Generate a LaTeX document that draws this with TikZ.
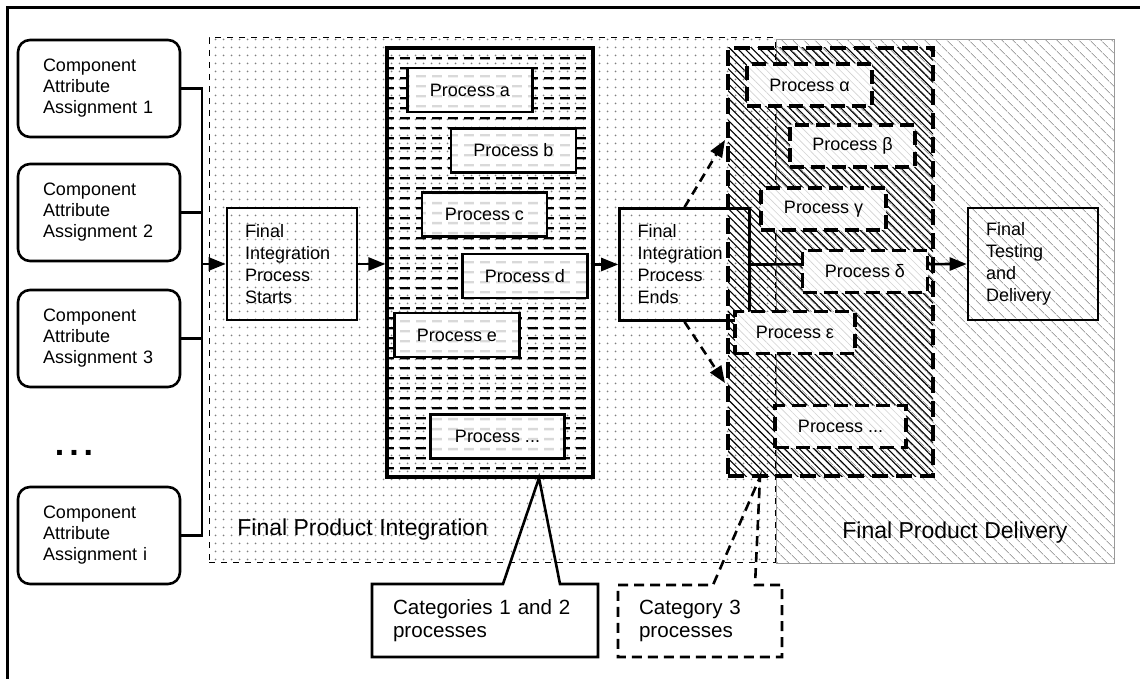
\documentclass[tikz,border=0pt]{standalone}
\usepackage{fontspec}
\setmainfont{Liberation Sans}
\usetikzlibrary{arrows.meta,patterns,patterns.meta}

\tikzdeclarepattern{name=sparsedots,type=uncolored,
  bottom left={(-2pt,-2pt)},top right={(2pt,2pt)},tile size={(4pt,4pt)},
  code={\fill (0pt,0pt) circle (0.55pt);}}
\tikzdeclarepattern{name=hdashes,type=uncolored,
  bottom left={(0pt,0pt)},top right={(8pt,4.9pt)},tile size={(8pt,4.9pt)},
  code={\fill (0pt,1.85pt) rectangle (5.2pt,3pt);}}

\begin{document}
\begin{tikzpicture}[x=0.5pt,y=-0.5pt,
  compbox/.style={draw,line width=1.3pt,rounded corners=6pt,minimum width=81pt,minimum height=48.5pt,
    text width=56pt,inner xsep=12.5pt,align=left,font=\fontsize{9}{10.5}\selectfont},
  stagebox/.style={draw,line width=1.3pt,minimum width=65pt,minimum height=56pt,
    text width=47pt,inner xsep=9pt,align=left,font=\fontsize{9}{11}\selectfont},
  procbox/.style={draw,line width=1.3pt,minimum width=62.5pt,minimum height=22pt,inner sep=0pt,
    preaction={fill=white},pattern=hdashes,pattern color=gray!30,font=\fontsize{9}{11}\selectfont},
  greekbox/.style={draw,line width=1.6pt,dash pattern=on 7pt off 3.5pt,minimum width=62.5pt,minimum height=21pt,inner sep=0pt,
    preaction={fill=white},pattern={Lines[angle=-45,distance=2.6pt,line width=0.3pt]},pattern color=gray!35,
    font=\fontsize{9}{11}\selectfont},
  regionlabel/.style={anchor=base west,inner sep=0pt,font=\fontsize{11.5}{13}\selectfont},
  notetext/.style={inner sep=0pt,align=left,font=\fontsize{10.3}{11.5}\selectfont},
  flow/.style={line width=1.3pt,-{Triangle[length=8.5pt,width=6.5pt]}},
  maybe/.style={flow,dash pattern=on 4.5pt off 3pt},
  bus/.style={line width=1.4pt}]
\useasboundingbox (0,0) rectangle (1140,679);
\draw[line width=1.5pt] (7,679)--(7,8)--(1140,8);

% the two stages
\node[draw=gray!80,line width=0.5pt,pattern={Lines[angle=-45,distance=4pt,line width=0.45pt]},pattern color=gray!70,
  minimum width=169pt,minimum height=261.5pt,inner sep=0pt] (fpd) at (945,301.5) {};
\node[draw,dashed,line width=0.5pt,pattern=sparsedots,pattern color=gray,
  minimum width=283pt,minimum height=262pt,inner sep=0pt] (fpi) at (492,300) {};
\node[regionlabel] (fpilabel) at (237,535) {Final Product Integration};
\node[regionlabel] (fpdlabel) at (842,538) {Final Product Delivery};

% process categories
\node[draw,line width=1.6pt,dash pattern=on 8pt off 4pt,pattern={Lines[angle=-45,distance=2.6pt,line width=0.55pt]},
  minimum width=102.5pt,minimum height=214pt,inner sep=0pt] (cat3) at (830.5,262) {};
\node[draw,line width=1.6pt,pattern=hdashes,minimum width=103pt,minimum height=214.5pt,inner sep=0pt] (cat12) at (490,262.5) {};

% component attribute assignments
\node[compbox] (comp1) at (99,88.5) {Component\\Attribute\\Assignment~1};
\node[compbox] (comp2) at (99,212.5) {Component\\Attribute\\Assignment~2};
\node[compbox] (comp3) at (99,338.5) {Component\\Attribute\\Assignment~3};
\node[font=\fontsize{17}{17}\selectfont\bfseries] (more) at (74,453) {.\hspace{2.5pt}.\hspace{2.5pt}.};
\node[compbox] (compi) at (99,535.5) {Component\\Attribute\\Assignment~i};

\coordinate (bustop) at (202,88.5);
\coordinate (busbot) at (202,535.5);
\draw[bus] (comp1.east)--(bustop)--(busbot)--(compi.east);
\draw[bus] (comp2.east)--(comp2.east -| bustop);
\draw[bus] (comp3.east)--(comp3.east -| bustop);

\node[stagebox] (starts) at (292,264) {Final\\Integration\\Process\\Starts};
\node[stagebox] (ends) at (684.5,264.5) {Final\\Integration\\Process\\Ends};
\node[stagebox] (testing) at (1033,264) {Final\\Testing\\and\\Delivery};

\draw[flow] (starts.west -| bustop)--(starts.west);
\draw[flow] (starts.east)--(starts.east -| cat12.west);
\draw[flow] (cat12.east |- ends.west)--(ends.west);
\draw[flow] (ends.east)--(testing.west);
\coordinate (uptip) at (725,140);
\coordinate (downtip) at (725,383);
\draw[maybe] (ends.north)--(uptip);
\draw[maybe] (ends.south)--(downtip);

% categories 1 and 2
\node[procbox] (pa) at (470,90) {Process a};
\node[procbox] (pb) at (513.5,150.5) {Process b};
\node[procbox] (pc) at (484.5,214.5) {Process c};
\node[procbox] (pd) at (525,276) {Process d};
\node[procbox] (pe) at (457,335) {Process e};
\node[procbox,minimum width=67pt] (pmore) at (497.5,436.5) {Process ...};

% category 3
\node[greekbox] (palpha) at (809.5,85) {Process α};
\node[greekbox] (pbeta) at (852.5,146) {Process β};
\node[greekbox] (pgamma) at (823.5,209) {Process γ};
\node[greekbox] (pdelta) at (865,271.5) {Process δ};
\node[greekbox,minimum width=60pt] (peps) at (795,332.5) {Process ε};
\node[greekbox,minimum width=65.5pt] (pgmore) at (840.5,426.5) {Process ...};

% callouts
\draw[line width=1.3pt] (372,584)--(503,584)--(539,478)--(560,584)--(598,584)--(598,657)--(372,657)--cycle;
\node[notetext,text width=92pt] (note12) at (485,620.5) {Categories 1 and 2\\processes};
\draw[line width=1.3pt,dash pattern=on 5pt off 3pt] (618,585)--(713,585)--(760,477)--(755,585)--(782,585)--(782,657)--(618,657)--cycle;
\node[notetext,text width=61pt] (note3) at (700,621) {Category 3\\processes};
\end{tikzpicture}
\end{document}
